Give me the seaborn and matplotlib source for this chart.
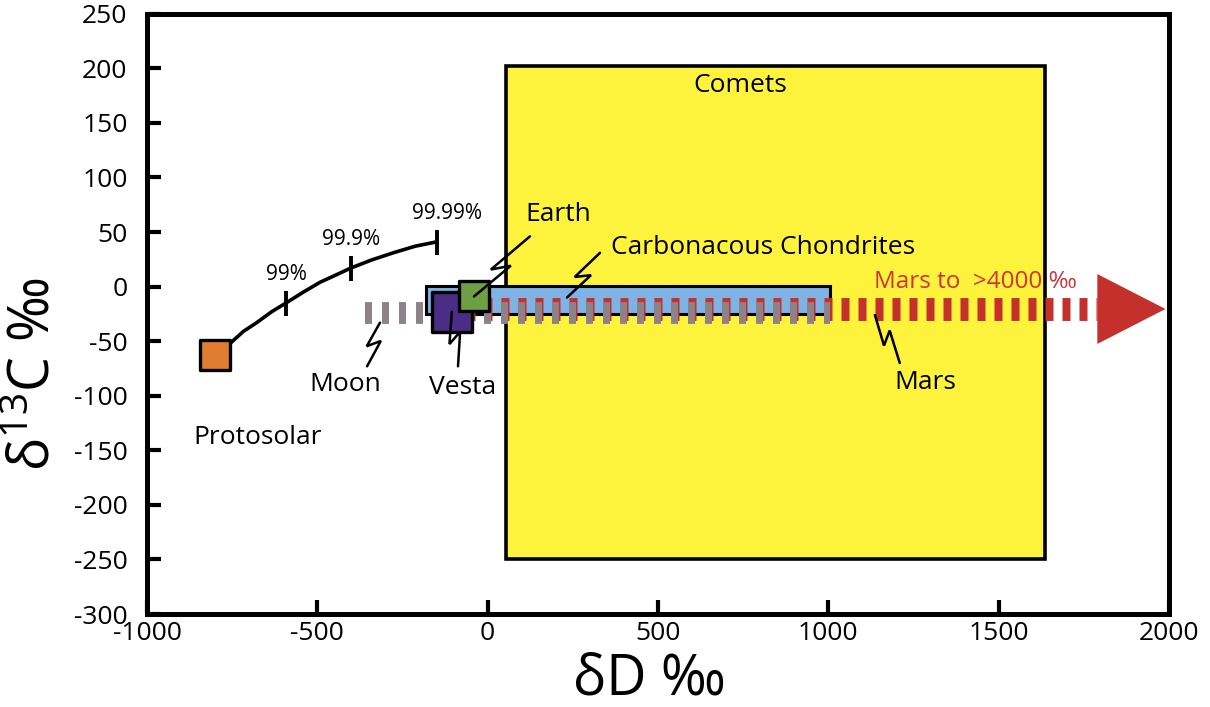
import numpy as np
import pandas as pd
import matplotlib
matplotlib.use("Agg")
import matplotlib.pyplot as plt
from matplotlib.patches import Rectangle, Polygon
import seaborn as sns

# ---- reservoir fields (δD ‰, δ13C ‰) ----
comets_dD = [55, 1635]
comets_d13C = [-250, 202]
chondrites_dD = [-180, 1005]
chondrites_d13C = [-25, 1]
moon_dD = [-360, 1005]
moon_d13C = [-34, -14]
mars_dD = [-110, 1790]
mars_tip_dD = 1990
mars_d13C = [-31, -10]

# ---- single bodies ----
body_names = ["Protosolar", "Vesta", "Earth"]
body_dD = [-800, -105, -40]
body_d13C = [-63, -23, -9]

# ---- mixing curve from protosolar gas ----
mixing_dD = [-756, -717, -678, -634, -592, -541, -492, -443, -402, -340, -277, -213, -150]
mixing_d13C = [-52, -41, -33, -23, -15, -5, 4, 11, 17, 24.5, 31, 37, 41]
mix_tick_index = [4, 8, 12]
mix_tick_labels = ["99%", "99.9%", "99.99%"]

x_ticks = [-1000, -500, 0, 500, 1000, 1500, 2000]
y_ticks = [250, 200, 150, 100, 50, 0, -50, -100, -150, -200, -250, -300]

# ---- colours ----
c_comets = "#fdf23c"
c_chondr = "#7fb3e6"
c_moon = "#8c8288"
c_mars = "#c4302b"
c_mars_text = "#d1343b"
body_colors = {"Protosolar": "#e07d33", "Vesta": "#4a2d85", "Earth": "#6e9f45"}
body_sizes = {"Protosolar": 30, "Vesta": 40, "Earth": 30}  # marker side in px

sns.set_theme(style="white")
plt.rcParams["font.family"] = ["Open Sans", "DejaVu Sans"]
plt.rcParams["mathtext.fontset"] = "custom"
plt.rcParams["mathtext.rm"] = "Open Sans"
plt.rcParams["mathtext.it"] = "Open Sans"
for key in ["text.color", "axes.labelcolor", "xtick.color", "ytick.color"]:
    plt.rcParams[key] = "black"

DPI = 100
fig = plt.figure(figsize=(12.10, 7.07), dpi=DPI)
ax = fig.add_axes([0.1215, 0.1315, 0.8445, 0.8490])
ax.set_xlim(-1000, 2000)
ax.set_ylim(-300, 250)
fig.canvas.draw()


def px_per_unit_y():
    a = ax.transData.transform([(0, 0), (0, 1)])
    return abs(a[1, 1] - a[0, 1])


# comets field
ax.add_patch(Rectangle((comets_dD[0], comets_d13C[0]),
                       comets_dD[1] - comets_dD[0], comets_d13C[1] - comets_d13C[0],
                       facecolor=c_comets, edgecolor="black", lw=2.6, zorder=1))

# carbonaceous chondrites field
ax.add_patch(Rectangle((chondrites_dD[0], chondrites_d13C[0]),
                       chondrites_dD[1] - chondrites_dD[0],
                       chondrites_d13C[1] - chondrites_d13C[0],
                       facecolor=c_chondr, edgecolor="black", lw=2.2, zorder=2))


def dashed_band(xr, yr, color, on_px, off_px, z):
    h_px = (yr[1] - yr[0]) * px_per_unit_y()
    lw = h_px * 72 / DPI
    yc = (yr[0] + yr[1]) / 2
    ax.plot(xr, [yc, yc], color=color, lw=lw, solid_capstyle="butt",
            dash_capstyle="butt", linestyle=(0, (on_px / h_px, off_px / h_px)),
            zorder=z)


# Mars band and arrow head
dashed_band(mars_dD, mars_d13C, c_mars, 8, 9, 3)
ymid = (mars_d13C[0] + mars_d13C[1]) / 2
half_head = 32
ax.add_patch(Polygon([(mars_dD[1], ymid - half_head), (mars_dD[1], ymid + half_head),
                      (mars_tip_dD, ymid)], closed=True, facecolor=c_mars,
                     edgecolor="none", zorder=3))

# Moon band
dashed_band(moon_dD, moon_d13C, c_moon, 7, 10, 4)

# mixing curve
mix = pd.DataFrame({"dD": mixing_dD, "d13C": mixing_d13C})
sns.lineplot(data=mix, x="dD", y="d13C", sort=False, color="black", lw=2.6,
             ax=ax, zorder=5)
ax.plot([mixing_dD[i] for i in mix_tick_index], [mixing_d13C[i] for i in mix_tick_index],
        ls="none", marker="|", ms=18, mew=2.8, color="black", zorder=5)
for i, lab in zip(mix_tick_index, mix_tick_labels):
    ax.text(mixing_dD[i] + (32 if lab == "99.99%" else 0), mixing_d13C[i] + 26, lab,
            ha="center", va="center", fontsize=15, zorder=6)

# bodies
bodies = pd.DataFrame({"name": body_names, "dD": body_dD, "d13C": body_d13C})
for name in body_names:
    sub = bodies[bodies["name"] == name]
    side_pt = body_sizes[name] * 72 / DPI
    sns.scatterplot(data=sub, x="dD", y="d13C", marker="s", s=side_pt ** 2,
                    color=body_colors[name], edgecolor="black", linewidth=2.4,
                    ax=ax, zorder=7 if name == "Earth" else 6, legend=False)


# lightning-style leader lines
def leader(p0, p1, amp=6, a1=0.58, a2=0.38):
    t = ax.transData
    a = t.transform(p0)
    b = t.transform(p1)
    d = b - a
    L = np.hypot(*d)
    u = d / L
    n = np.array([u[1], -u[0]])
    pts = np.array([a, a + a1 * d + amp * n, a + a2 * d - amp * n, b])
    dat = t.inverted().transform(pts)
    ax.plot(dat[:, 0], dat[:, 1], color="black", lw=1.8, zorder=8,
            solid_joinstyle="miter")


leader((-40, -9), (124, 46))
leader((233, -10), (330, 31))
leader((-316, -33), (-354, -73))
leader((-105, -23), (-87, -73))
leader((1137, -26), (1210, -70))

# labels
label_fs = 19
ax.text(743, 184, "Comets", ha="center", va="center", fontsize=label_fs)
ax.text(206, 66, "Earth", ha="center", va="center", fontsize=label_fs)
ax.text(808, 36, "Carbonacous Chondrites", ha="center", va="center", fontsize=label_fs)
ax.text(1432, 4, "Mars to  >4000 ‰", ha="center", va="center", fontsize=17.5,
        color=c_mars_text, zorder=2)
ax.text(1284, -88, "Mars", ha="center", va="center", fontsize=label_fs)
ax.text(-419, -90, "Moon", ha="center", va="center", fontsize=label_fs)
ax.text(-75, -92, "Vesta", ha="center", va="center", fontsize=label_fs)
ax.text(-674, -138, "Protosolar", ha="center", va="center", fontsize=label_fs)

# axes styling
ax.set_xticks(x_ticks)
ax.set_yticks(y_ticks)
ax.set_xticklabels([str(v) for v in x_ticks], fontsize=19)
ax.set_yticklabels([str(v) for v in y_ticks], fontsize=19)
ax.get_xticklabels()[0].set_x(-1000)
ax.tick_params(axis="both", direction="in", length=10, width=3, color="black",
               left=True, bottom=True, top=False, right=False)
ax.tick_params(axis="x", pad=5)
ax.tick_params(axis="y", pad=14)
for sp in ax.spines.values():
    sp.set_visible(True)
    sp.set_color("black")
    sp.set_linewidth(3.6)
    sp.set_zorder(10)
ax.set_facecolor("white")
ax.grid(False)

ax.set_xlabel("δD ‰", fontsize=40)
ax.xaxis.set_label_coords(0.492, -0.11)
ax.xaxis.label.set_va("center")
ax.set_ylabel("δ$^{13}$C ‰", fontsize=40)
ax.yaxis.set_label_coords(-0.11, 0.40)
ax.yaxis.label.set_va("center")

fig.savefig("out.png", dpi=DPI, facecolor="white")
